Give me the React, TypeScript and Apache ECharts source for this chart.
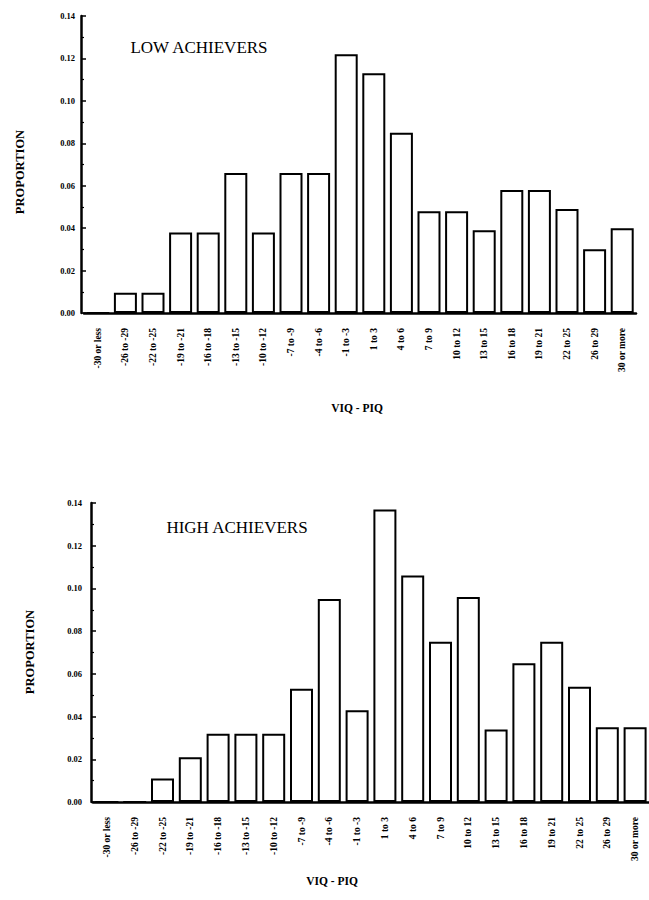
import React, { useEffect, useRef } from "react";
import * as echarts from "echarts";

const categories = ["-30 or less", "-26 to -29", "-22 to -25", "-19 to -21", "-16 to -18", "-13 to -15", "-10 to -12", "-7 to -9", "-4 to -6", "-1 to -3", "1 to 3", "4 to 6", "7 to 9", "10 to 12", "13 to 15", "16 to 18", "19 to 21", "22 to 25", "26 to 29", "30 or more"];
const lowAchievers = [0, 0.0095, 0.0095, 0.038, 0.038, 0.066, 0.038, 0.066, 0.066, 0.122, 0.113, 0.085, 0.048, 0.048, 0.039, 0.058, 0.058, 0.049, 0.030, 0.040];
const highAchievers = [0, 0, 0.011, 0.021, 0.032, 0.032, 0.032, 0.053, 0.095, 0.043, 0.137, 0.106, 0.075, 0.096, 0.034, 0.065, 0.075, 0.054, 0.035, 0.035];
const titles = ["LOW ACHIEVERS", "HIGH ACHIEVERS"];
const yName = "PROPORTION";
const xName = "VIQ - PIQ";

const FONT = "'Liberation Serif', 'DejaVu Serif', serif";

export default function App() {
  const ref = useRef<HTMLDivElement>(null);
  useEffect(() => {
    if (!ref.current) return;
    const chart = echarts.init(ref.current, null, { renderer: "svg" });
    const grids = [
      { left: 84, top: 16, width: 552, height: 297 },
      { left: 93, top: 503, width: 556, height: 299 },
    ];
    const mkX = (i: number) => ({
      type: "category",
      gridIndex: i,
      data: categories,
      axisLine: { lineStyle: { color: "#000", width: 2.5 } },
      axisTick: { show: false },
      axisLabel: {
        interval: 0,
        rotate: 90,
        margin: 15,
        fontSize: 9.5,
        fontWeight: "bold",
        fontFamily: FONT,
        color: "#000",
      },
    });
    const mkY = (i: number) => ({
      type: "value",
      gridIndex: i,
      min: 0,
      max: 0.14,
      interval: 0.02,
      offset: i === 0 ? 3 : 2,
      axisLine: { show: true, lineStyle: { color: "#000", width: 2.5 } },
      axisTick: { show: true, inside: true, length: 5, lineStyle: { color: "#000", width: 1.5 } },
      minorTick: { show: true, splitNumber: 2, length: 3, lineStyle: { color: "#000", width: 1.2 } },
      splitLine: { show: false },
      axisLabel: {
        margin: i === 0 ? 6 : 9,
        fontSize: 8.5,
        fontWeight: "bold",
        fontFamily: FONT,
        color: "#000",
        formatter: (v: number) => v.toFixed(2),
      },
    });
    const mkSeries = (i: number, data: number[]) => ({
      type: "bar",
      xAxisIndex: i,
      yAxisIndex: i,
      data,
      barWidth: 23,
      itemStyle: { color: "#fff", borderColor: "#000", borderWidth: 2 },
    });
    const txt = (text: string, x: number, y: number, size: number, rot = 0, weight = "normal") => ({
      type: "text",
      x,
      y,
      rotation: rot,
      style: {
        text,
        fill: "#000",
        font: `${weight} ${size}px ${FONT}`,
        align: "center",
        verticalAlign: "middle",
      },
    });
    chart.setOption({
      animation: false,
      backgroundColor: "#fff",
      grid: grids,
      xAxis: [mkX(0), mkX(1)],
      yAxis: [mkY(0), mkY(1)],
      series: [mkSeries(0, lowAchievers), mkSeries(1, highAchievers)],
      graphic: [
        txt(titles[0], 199, 47, 17),
        txt(titles[1], 237, 527, 17),
        txt(yName, 20, 172, 12.5, Math.PI / 2, "bold"),
        txt(yName, 30, 652, 12.5, Math.PI / 2, "bold"),
        txt(xName, 357, 408, 11.5, 0, "bold"),
        txt(xName, 332, 881, 11.5, 0, "bold"),
      ],
    });
    return () => chart.dispose();
  }, []);
  return (
    <div
      ref={ref}
      style={{ position: "absolute", left: 0, top: 0, width: 649, height: 900, background: "#fff" }}
    />
  );
}
